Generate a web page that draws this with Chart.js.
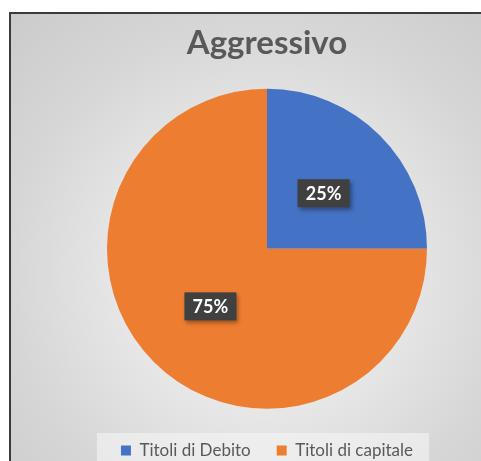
<!DOCTYPE html>
<html lang="it">
<head>
    <meta charset="UTF-8">
    <title>Aggressivo</title>
    <style>
        html, body {
            margin: 0;
            padding: 0;
            background-color: #fff;
            overflow: hidden;
            width: 481px;
            height: 461px;
        }

        #frame {
            position: absolute;
            left: 9px;
            top: 12px;
            width: 472px;
            height: 449px;
            border-left: 2px solid #3b3b3b;
            border-top: 2px solid #3b3b3b;
            background: radial-gradient(circle at 53% 58%, #f6f6f6 0%, #e6e6e6 40%, #d6d6d6 70%, #cbcbcb 100%);
        }

        #chart {
            position: absolute;
            left: 12px;
            top: 14px;
        }
    </style>
</head>
<body>
    <div id="frame"></div>
    <canvas id="chart" width="469" height="467"></canvas>

    <script src="https://cdn.jsdelivr.net/npm/chart.js"></script>
    <script>
        var categories = ['Titoli di Debito', 'Titoli di capitale'];
        var shares = [25, 75];
        var sliceColors = ['#4472C4', '#ED7D31'];

        var fontFamily = 'Lato, "Open Sans", sans-serif';

        // light panel behind the legend
        var legendPanel = {
            id: 'legendPanel',
            beforeDraw: function(chart) {
                var boxes = chart.legend.legendHitBoxes;
                if (!boxes || !boxes.length) return;
                var left = boxes[0].left - 24;
                var last = boxes[boxes.length - 1];
                var right = last.left + last.width + 16;
                var top = boxes[0].top - 9;
                var c = chart.ctx;
                c.save();
                c.fillStyle = 'rgba(245,245,245,0.6)';
                c.fillRect(left, top, right - left, chart.height - top);
                c.restore();
            }
        };

        // boxed percentage labels like the Excel data callouts
        var boxLabels = {
            id: 'boxLabels',
            afterDatasetsDraw: function(chart) {
                var c = chart.ctx;
                var meta = chart.getDatasetMeta(0);
                meta.data.forEach(function(arc, i) {
                    var p = arc.tooltipPosition();
                    var text = shares[i] + '%';
                    var w = 52, h = 28;
                    c.save();
                    c.font = 'bold 18px ' + fontFamily;
                    c.shadowColor = 'rgba(0,0,0,0.35)';
                    c.shadowOffsetX = 2;
                    c.shadowOffsetY = 3;
                    c.shadowBlur = 4;
                    c.fillStyle = '#404040';
                    c.fillRect(p.x - w / 2, p.y - h / 2 + 1, w, h);
                    c.shadowColor = 'transparent';
                    c.fillStyle = '#ffffff';
                    c.textAlign = 'center';
                    c.textBaseline = 'middle';
                    c.fillText(text, p.x, p.y + 2);
                    c.restore();
                });
            }
        };

        var ctx = document.getElementById('chart').getContext('2d');
        var myChart = new Chart(ctx, {
            type: 'pie',
            data: {
                labels: categories,
                datasets: [{
                    data: shares,
                    backgroundColor: sliceColors,
                    borderWidth: 0,
                    radius: 160
                }]
            },
            options: {
                responsive: false,
                animation: false,
                layout: {
                    padding: { left: 41, top: 0, right: 0, bottom: 12 }
                },
                plugins: {
                    title: {
                        display: true,
                        text: 'Aggressivo',
                        color: '#595959',
                        font: { family: fontFamily, size: 33, weight: 'bold' },
                        padding: { top: 10, bottom: 18 }
                    },
                    legend: {
                        position: 'bottom',
                        labels: {
                            color: '#595959',
                            font: { family: fontFamily, size: 17 },
                            boxWidth: 10,
                            boxHeight: 10,
                            padding: 26
                        }
                    },
                    tooltip: { enabled: false }
                }
            },
            plugins: [legendPanel, boxLabels]
        });
    </script>
</body>
</html>
